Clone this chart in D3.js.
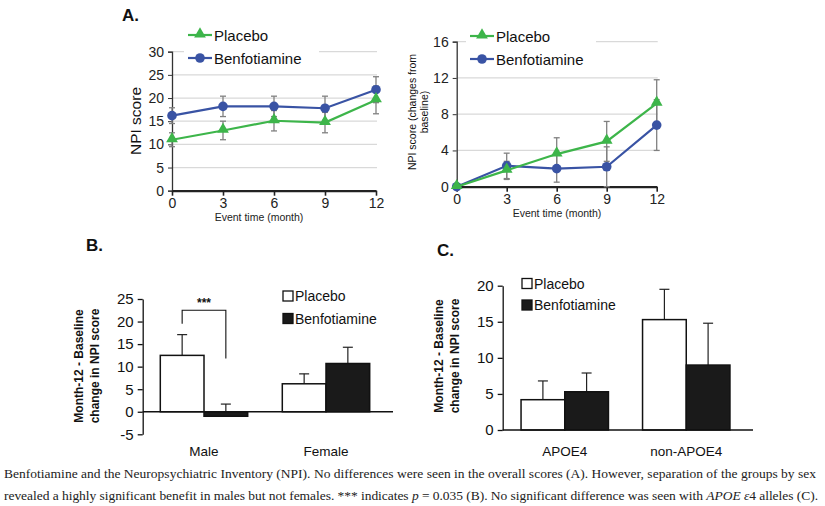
<!DOCTYPE html>
<html>
<head>
<meta charset="utf-8">
<script src="https://cdn.jsdelivr.net/npm/d3@7"></script>
<style>
  body { margin: 0; background: #fff; }
  svg { display: block; font-family: Arial, "Liberation Sans", sans-serif; }
</style>
</head>
<body>
<svg width="825" height="506"></svg>
<script>
// Panel A: NPI score over time
const months = [0, 3, 6, 9, 12];
const placeboScore = [11.0, 13.0, 15.1, 14.7, 19.6];
const placeboScoreErr = [1.5, 2.0, 2.2, 2.2, 3.0];
const benfoScore = [16.2, 18.2, 18.2, 17.8, 21.8];
const benfoScoreErr = [1.7, 2.2, 2.2, 2.6, 2.8];
const scoreTicks = [0, 5, 10, 15, 20, 25, 30];

// Panel A right: change from baseline
const placeboChange = [0, 1.8, 3.6, 5.0, 9.2];
const placeboChangeErr = [0, 1.0, 1.8, 2.2, 2.6];
const benfoChange = [0, 2.3, 2.0, 2.2, 6.8];
const benfoChangeErr = [0, 1.4, 1.5, 2.2, 2.8];
const changeTicks = [0, 4, 8, 12, 16];

// Panel B: by sex
const sexGroups = ["Male", "Female"];
const sexPlacebo = [12.5, 6.2];
const sexPlaceboErr = [4.6, 2.2];
const sexBenfo = [-1.0, 10.7];
const sexBenfoErr = [2.7, 3.6];
const sexTicks = [-5, 0, 5, 10, 15, 20, 25];

// Panel C: by APOE status
const apoeGroups = ["APOE4", "non-APOE4"];
const apoePlacebo = [4.2, 15.3];
const apoePlaceboErr = [2.6, 4.2];
const apoeBenfo = [5.3, 9.0];
const apoeBenfoErr = [2.6, 5.8];
const apoeTicks = [0, 5, 10, 15, 20];

const green = "#3db54a", blue = "#3953a4", errGray = "#808080", gridGray = "#d9d9d9";
const svg = d3.select("svg");
const plain = d => String(d); // hyphen minus, like the original

// ---------- line panels ----------
function linePanel(opt) {
    const x = d3.scaleLinear().domain([0, 12]).range(opt.xr);
    const y = d3.scaleLinear().domain(opt.yd).range(opt.yr);
    const g = svg.append("g");

    // gridlines
    g.selectAll(".grid").data(opt.ticks.slice(1)).join("line")
        .attr("x1", opt.xr[0]).attr("x2", opt.xr[1] + 1)
        .attr("y1", d => y(d)).attr("y2", d => y(d))
        .attr("stroke", gridGray).attr("stroke-width", 1.2);

    // legend background hides the top gridline
    g.append("rect").attr("x", opt.legX - 4).attr("y", opt.legY - 14)
        .attr("width", opt.legW).attr("height", 40).attr("fill", "#fff");

    // y axis
    const ya = g.append("g").attr("transform", `translate(${opt.xr[0]},0)`)
        .call(d3.axisLeft(y).tickValues(opt.ticks).tickFormat(plain).tickSize(4).tickPadding(4));
    ya.select(".domain").attr("stroke", "#333").attr("stroke-width", 1.3);
    ya.selectAll(".tick line").attr("stroke", "#333");
    ya.selectAll("text").attr("font-size", opt.tickFs).attr("fill", "#222");

    // x axis
    const xa = g.append("g").attr("transform", `translate(0,${opt.yr[0]})`)
        .call(d3.axisBottom(x).tickValues(months).tickSize(5).tickPadding(2).tickSizeOuter(0));
    xa.select(".domain").attr("stroke", "#222").attr("stroke-width", 2.2);
    xa.selectAll(".tick line").attr("stroke", "#222").attr("stroke-width", 1.6);
    xa.selectAll("text").attr("font-size", opt.tickFs).attr("fill", "#222");

    g.append("text").attr("x", opt.xLabelX).attr("y", opt.yr[0] + 30)
        .attr("text-anchor", "middle").attr("font-size", 10.5).attr("fill", "#222")
        .text("Event time (month)");

    // error bars
    const series = [
        { v: opt.benfo, e: opt.benfoErr },
        { v: opt.placebo, e: opt.placeboErr }
    ];
    series.forEach(s => {
        months.forEach((m, i) => {
            if (s.e[i] === 0) return;
            const cx = x(m), lo = y(s.v[i] - s.e[i]), hi = y(s.v[i] + s.e[i]);
            g.append("line").attr("x1", cx).attr("x2", cx).attr("y1", lo).attr("y2", hi)
                .attr("stroke", errGray).attr("stroke-width", 1.3);
            [lo, hi].forEach(yy => g.append("line").attr("x1", cx - 3).attr("x2", cx + 3)
                .attr("y1", yy).attr("y2", yy).attr("stroke", errGray).attr("stroke-width", 1.3));
        });
    });

    const line = d3.line().x((d, i) => x(months[i])).y(d => y(d));
    const tri = d3.symbol().type(d3.symbolTriangle).size(opt.triSize);

    // benfotiamine
    g.append("path").datum(opt.benfo).attr("d", line).attr("fill", "none")
        .attr("stroke", blue).attr("stroke-width", 2.2);
    g.selectAll(".bdot").data(opt.benfo).join("circle")
        .attr("cx", (d, i) => x(months[i])).attr("cy", d => y(d)).attr("r", opt.dotR).attr("fill", blue);

    // placebo
    g.append("path").datum(opt.placebo).attr("d", line).attr("fill", "none")
        .attr("stroke", green).attr("stroke-width", 2.2);
    g.selectAll(".ptri").data(opt.placebo).join("path")
        .attr("d", tri).attr("fill", green)
        .attr("transform", (d, i) => `translate(${x(months[i])},${y(d) - 1})`);

    // legend
    const leg = [
        { name: "Placebo", c: green, mark: "tri" },
        { name: "Benfotiamine", c: blue, mark: "dot" }
    ];
    leg.forEach((d, i) => {
        const ly = opt.legY + i * 23;
        g.append("line").attr("x1", opt.legX).attr("x2", opt.legX + 24)
            .attr("y1", ly).attr("y2", ly).attr("stroke", d.c).attr("stroke-width", 2.2);
        if (d.mark === "tri") {
            g.append("path").attr("d", tri).attr("fill", d.c)
                .attr("transform", `translate(${opt.legX + 12},${ly - 1})`);
        } else {
            g.append("circle").attr("cx", opt.legX + 12).attr("cy", ly).attr("r", opt.dotR).attr("fill", d.c);
        }
        g.append("text").attr("x", opt.legX + 26).attr("y", ly + 5.5)
            .attr("font-size", opt.legFs).attr("fill", "#111").text(d.name);
    });

    return g;
}

const gA1 = linePanel({
    xr: [172, 376], yd: [0, 30], yr: [190.7, 51.7], ticks: scoreTicks, xLabelX: 259,
    placebo: placeboScore, placeboErr: placeboScoreErr,
    benfo: benfoScore, benfoErr: benfoScoreErr,
    legX: 188, legY: 35, legW: 135, tickFs: 14, legFs: 15, dotR: 4.8, triSize: 60
});
gA1.append("text").attr("transform", "translate(141,121) rotate(-90)")
    .attr("text-anchor", "middle").attr("font-size", 15.5).attr("fill", "#111").text("NPI score");

const gA2 = linePanel({
    xr: [456.7, 656.7], yd: [0, 16], yr: [186.7, 41.7], ticks: changeTicks, xLabelX: 557,
    placebo: placeboChange, placeboErr: placeboChangeErr,
    benfo: benfoChange, benfoErr: benfoChangeErr,
    legX: 470, legY: 36, legW: 130, tickFs: 14, legFs: 15, dotR: 4.8, triSize: 60
});
gA2.append("text").attr("transform", "translate(416,112) rotate(-90)")
    .attr("text-anchor", "middle").attr("font-size", 10.5).attr("fill", "#111")
    .text("NPI score  (changes from");
gA2.append("text").attr("transform", "translate(428,112) rotate(-90)")
    .attr("text-anchor", "middle").attr("font-size", 10.5).attr("fill", "#111")
    .text("baseline)");

svg.append("text").attr("x", 122).attr("y", 21).attr("font-size", 17)
    .attr("font-weight", "bold").attr("fill", "#111").text("A.");

// ---------- bar panels ----------
function barPanel(opt) {
    const g = svg.append("g");
    const y = d3.scaleLinear().domain(opt.yd).range(opt.yr);
    const x = d3.scalePoint().domain(opt.groups).range(opt.xr).padding(0.5);
    const bw = 43.7;

    const ya = g.append("g").attr("transform", `translate(${opt.axisX},0)`)
        .call(d3.axisLeft(y).tickValues(opt.ticks).tickFormat(plain).tickSize(5).tickPadding(4).tickSizeOuter(0));
    ya.select(".domain").attr("stroke", "#111").attr("stroke-width", 1.3);
    ya.selectAll(".tick line").attr("stroke", "#111").attr("stroke-width", 1.3);
    ya.selectAll("text").attr("font-size", 15).attr("fill", "#111");

    const series = [
        { v: opt.placebo, e: opt.placeboErr, fill: "#fff", off: -bw },
        { v: opt.benfo, e: opt.benfoErr, fill: "#1a1a1a", off: 0 }
    ];
    series.forEach(s => {
        opt.groups.forEach((grp, i) => {
            const x0 = x(grp) + s.off, v = s.v[i];
            const cx = x0 + bw / 2;
            // error bar upward from bar top
            const top = y(v + s.e[i]);
            g.append("line").attr("x1", cx).attr("x2", cx).attr("y1", y(v)).attr("y2", top)
                .attr("stroke", "#222").attr("stroke-width", 1.2);
            g.append("line").attr("x1", cx - 5).attr("x2", cx + 5).attr("y1", top).attr("y2", top)
                .attr("stroke", "#222").attr("stroke-width", 1.2);
            g.append("rect").attr("x", x0).attr("width", bw)
                .attr("y", Math.min(y(v), y(0))).attr("height", Math.abs(y(v) - y(0)))
                .attr("fill", s.fill).attr("stroke", "#111").attr("stroke-width", 1.5);
        });
    });

    // x axis line at zero
    g.append("line").attr("x1", opt.axisX).attr("x2", opt.xEnd)
        .attr("y1", y(0)).attr("y2", y(0)).attr("stroke", "#111").attr("stroke-width", 1.4);

    g.selectAll(".xl").data(opt.groups).join("text")
        .attr("x", d => x(d)).attr("y", opt.labelY).attr("text-anchor", "middle")
        .attr("font-size", 13.5).attr("fill", "#111").text(d => d);

    // y title
    const tt = g.append("text").attr("transform", `translate(${opt.titleX},${opt.titleY}) rotate(-90)`)
        .attr("text-anchor", "middle").attr("font-size", 12).attr("font-weight", "bold").attr("fill", "#111");
    tt.append("tspan").attr("x", 0).attr("dy", 0).text("Month-12 - Baseline");
    tt.append("tspan").attr("x", 0).attr("dy", 16).text("change in NPI  score");

    // legend
    [{ name: "Placebo", fill: "#fff" }, { name: "Benfotiamine", fill: "#1a1a1a" }].forEach((d, i) => {
        const ly = opt.legY + i * opt.legStep;
        g.append("rect").attr("x", opt.legX).attr("y", ly - 5).attr("width", 10).attr("height", 10)
            .attr("fill", d.fill).attr("stroke", "#111").attr("stroke-width", 1.3);
        g.append("text").attr("x", opt.legX + 12).attr("y", ly + 5)
            .attr("font-size", 14).attr("fill", "#111").text(d.name);
    });

    return { g, x, y, bw };
}

const pB = barPanel({
    groups: sexGroups, placebo: sexPlacebo, placeboErr: sexPlaceboErr,
    benfo: sexBenfo, benfoErr: sexBenfoErr, ticks: sexTicks,
    yd: [-5, 25], yr: [434.3, 299], xr: [143, 387], axisX: 142.7, xEnd: 393,
    labelY: 456, titleX: 83, titleY: 366, legX: 283, legY: 296, legStep: 22.5
});

// significance bracket for Male
{
    const { g, x, y, bw } = pB;
    const lx = x("Male") - bw / 2, rx = x("Male") + bw / 2;
    const ty = y(22.5);
    g.append("path")
        .attr("d", `M${lx},${y(19.5)}V${ty}H${rx}V${y(11.8)}`)
        .attr("fill", "none").attr("stroke", "#111").attr("stroke-width", 1.1);
    g.append("text").attr("x", (lx + rx) / 2).attr("y", ty - 3).attr("text-anchor", "middle")
        .attr("font-size", 12).attr("font-weight", "bold").attr("fill", "#111").text("***");
}

svg.append("text").attr("x", 86).attr("y", 251).attr("font-size", 17)
    .attr("font-weight", "bold").attr("fill", "#111").text("B.");

barPanel({
    groups: apoeGroups, placebo: apoePlacebo, placeboErr: apoePlaceboErr,
    benfo: apoeBenfo, benfoErr: apoeBenfoErr, ticks: apoeTicks,
    yd: [0, 20], yr: [430, 285.7], xr: [504, 747], axisX: 502.7, xEnd: 753,
    labelY: 456, titleX: 443, titleY: 356, legX: 522, legY: 283.5, legStep: 21.5
});

svg.append("text").attr("x", 437).attr("y", 256).attr("font-size", 17)
    .attr("font-weight", "bold").attr("fill", "#111").text("C.");

// ---------- caption ----------
svg.append("text").attr("x", 4).attr("y", 477.5)
    .attr("font-family", "'Liberation Serif', 'DejaVu Serif', serif").attr("font-size", 13.5).attr("fill", "#222")
    .attr("textLength", 812).attr("lengthAdjust", "spacing")
    .text("Benfotiamine and the Neuropsychiatric Inventory (NPI). No differences were seen in the overall scores (A). However, separation of the groups by sex");
const cap2 = svg.append("text").attr("x", 4).attr("y", 500)
    .attr("font-family", "'Liberation Serif', 'DejaVu Serif', serif").attr("font-size", 13.5).attr("fill", "#222")
    .attr("textLength", 814).attr("lengthAdjust", "spacing");
cap2.append("tspan").text("revealed a highly significant benefit in males but not females. *** indicates ");
cap2.append("tspan").attr("font-style", "italic").text("p");
cap2.append("tspan").text(" = 0.035 (B). No significant difference was seen with ");
cap2.append("tspan").attr("font-style", "italic").text("APOE ε");
cap2.append("tspan").text("4 alleles (C).");
</script>
</body>
</html>
